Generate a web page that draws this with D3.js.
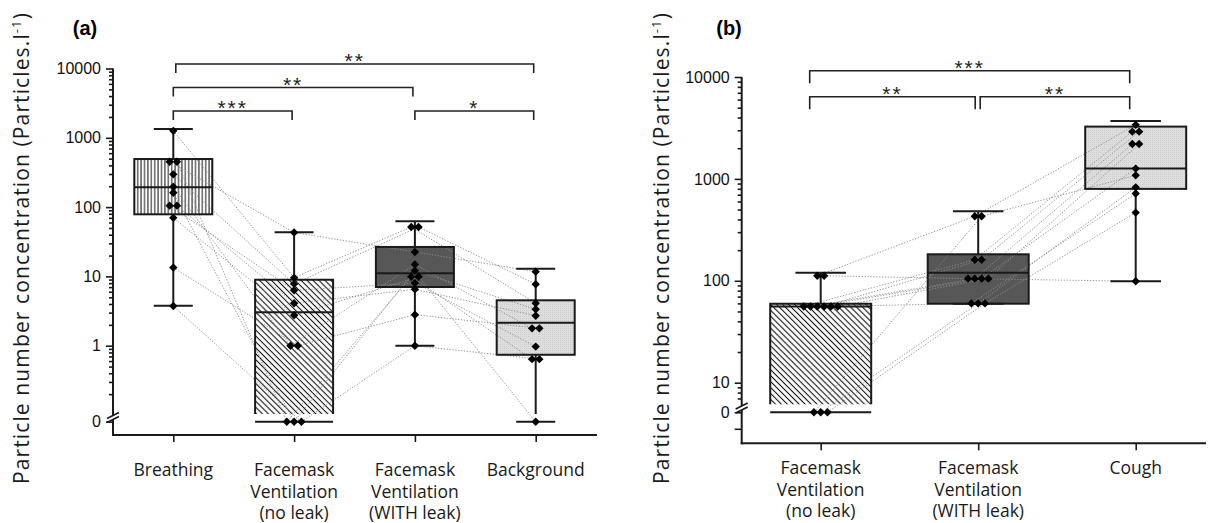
<!DOCTYPE html>
<html><head><meta charset="utf-8">
<script src="https://cdn.jsdelivr.net/npm/d3@7"></script>
<style>body{margin:0;background:#fff} svg{display:block}</style>
</head><body>
<svg id="c" width="1208" height="523"></svg>
<script>
// ---------------- DATA ----------------
// Panel (a)
const catsA = ["Breathing", "FV no leak", "FV WITH leak", "Background"];
const labelsA = [["Breathing"], ["Facemask", "Ventilation", "(no leak)"], ["Facemask", "Ventilation", "(WITH leak)"], ["Background"]];
const minA = [3.78, 0, 1.0, 0];
const q1A  = [78.7, 0, 7.03, 0.74];
const medA = [193, 3.03, 11.1, 2.15];
const q3A  = [494, 8.96, 26.6, 4.52];
const maxA = [1340, 43.3, 62.4, 12.9];
// individual subjects (same subject order in each group)
const breathingA  = [1260, 452, 452, 297, 197, 161, 105, 105, 70, 13.4, 3.74];
const noLeakA     = [9.6, 43, 0, 7.8, 1.0, 0, 6.3, 4.1, 2.75, 1.0, 0];
const withLeakA   = [51.6, 22.5, 9.9, 51.6, 14.9, 12.1, 8.0, 6.5, 9.9, 2.8, 1.0];
const backgroundA = [4.1, 11.7, 0.64, 7.7, 1.78, 3.35, 0.97, 2.71, 0, 1.78, 0.64];
const majorTicksA = [1, 10, 100, 1000, 10000];
const bracketsA = [
  {from: 0, to: 1, label: "***", level: 0},
  {from: 2, to: 3, label: "*",   level: 0},
  {from: 0, to: 2, label: "**",  level: 1},
  {from: 0, to: 3, label: "**",  level: 2}
];
// Panel (b)
const catsB = ["FV no leak", "FV WITH leak", "Cough"];
const labelsB = [["Facemask", "Ventilation", "(no leak)"], ["Facemask", "Ventilation", "(WITH leak)"], ["Cough"]];
const minB = [0, 59.6, 99];
const q1B  = [0, 59.6, 798];
const medB = [56, 120, 1262];
const q3B  = [59.6, 182, 3260];
const maxB = [120, 482, 3705];
const noLeakB   = [112, 112, 56, 56, 56, 56, 56, 56, 0, 0, 0];
const withLeakB = [430, 105, 161, 105, 105, 161, 60, 105, 430, 60, 60];
const coughB    = [3390, 99, 2910, 2200, 1262, 2910, 718, 2200, 1084, 826, 467];
const majorTicksB = [10, 100, 1000, 10000];
const bracketsB = [
  {from: 0, to: 1, label: "**",  level: 0},
  {from: 1, to: 2, label: "**",  level: 0},
  {from: 0, to: 2, label: "***", level: 1}
];
const yTitle = "Particle number concentration (Particles.l";

// ---------------- DRAW ----------------
const svg = d3.select("#c");
const defs = svg.append("defs");
const pv = defs.append("pattern").attr("id", "vlines").attr("patternUnits", "userSpaceOnUse")
  .attr("width", 3.4).attr("height", 10);
pv.append("rect").attr("width", 3.4).attr("height", 10).attr("fill", "#fff");
pv.append("line").attr("x1", 1.7).attr("x2", 1.7).attr("y1", 0).attr("y2", 10).attr("stroke", "#111").attr("stroke-width", 1);
const ph = defs.append("pattern").attr("id", "hatch").attr("patternUnits", "userSpaceOnUse")
  .attr("width", 4.2).attr("height", 10).attr("patternTransform", "rotate(-45)");
ph.append("rect").attr("width", 4.2).attr("height", 10).attr("fill", "#fff");
ph.append("line").attr("x1", 2.1).attr("x2", 2.1).attr("y1", 0).attr("y2", 10).attr("stroke", "#111").attr("stroke-width", 1.1);
const pd = defs.append("pattern").attr("id", "stipple").attr("patternUnits", "userSpaceOnUse")
  .attr("width", 2).attr("height", 2);
pd.append("rect").attr("width", 2).attr("height", 2).attr("fill", "#dedede");
pd.append("rect").attr("width", 1).attr("height", 1).attr("fill", "#cfcfcf");

const INK = "#1a1a1a";
const diamond = "M0,-4.2L4.2,0L0,4.2L-4.2,0Z";

function drawPanel(p) {
  const g = svg.append("g");
  const x = d3.scalePoint().domain(p.cats).range(p.xRange);
  const ylog = d3.scaleLog().domain(p.logDomain).range(p.logRange);
  const ylow = d3.scaleLinear().domain([0, -1]).range([p.zeroY, p.zeroY + p.lowStep]);
  const y = v => v <= 0 ? ylow(v) : ylog(v);
  const breakTop = p.logRange[0] - 1;
  const ax = p.axisX;

  // box fills
  p.cats.forEach((c, i) => {
    const cx = x(c), w = p.boxW;
    const top = y(p.q3[i]);
    const bot = p.q1[i] <= 0 ? breakTop : y(p.q1[i]);
    g.append("rect").attr("x", cx - w / 2).attr("y", top).attr("width", w).attr("height", bot - top)
      .attr("fill", p.fills[i]);
  });

  // point positions with horizontal spreading of coincident values
  const pos = p.points.map((arr, i) => {
    const cx = x(p.cats[i]);
    const ys = arr.map(v => y(v));
    const order = d3.range(arr.length).sort((a, b) => ys[a] - ys[b]);
    const out = new Array(arr.length);
    let cluster = [];
    const flush = () => {
      cluster.forEach((idx, k) => { out[idx] = [cx + (k - (cluster.length - 1) / 2) * p.spread, ys[idx]]; });
      cluster = [];
    };
    order.forEach(idx => {
      if (cluster.length && Math.abs(ys[idx] - ys[cluster[cluster.length - 1]]) > 3) flush();
      cluster.push(idx);
    });
    flush();
    return out;
  });

  // dotted subject lines
  for (let i = 0; i < pos.length - 1; i++) {
    pos[i].forEach((pt, s) => {
      const q = pos[i + 1][s];
      g.append("line").attr("x1", pt[0]).attr("y1", pt[1]).attr("x2", q[0]).attr("y2", q[1])
        .attr("stroke", "#8c8c8c").attr("stroke-width", 0.9).attr("stroke-dasharray", "1.3,1.6");
    });
  }

  // box outlines, medians, whiskers
  p.cats.forEach((c, i) => {
    const cx = x(c), w = p.boxW, l = cx - w / 2, r = cx + w / 2;
    const top = y(p.q3[i]);
    const st = s => s.attr("stroke", INK).attr("stroke-width", 2).attr("fill", "none");
    if (p.q1[i] > 0) {
      const bot = y(p.q1[i]);
      st(g.append("rect").attr("x", l).attr("y", top).attr("width", w).attr("height", bot - top));
      const wEnd = p.min[i] <= 0 ? breakTop : y(p.min[i]);
      st(g.append("line").attr("x1", cx).attr("x2", cx).attr("y1", bot).attr("y2", wEnd));
      st(g.append("line").attr("x1", cx - w / 4).attr("x2", cx + w / 4).attr("y1", y(p.min[i])).attr("y2", y(p.min[i])));
    } else {
      st(g.append("path").attr("d", `M${l},${breakTop}V${top}H${r}V${breakTop}`));
      st(g.append("line").attr("x1", l).attr("x2", r).attr("y1", y(0)).attr("y2", y(0)));
    }
    st(g.append("line").attr("x1", l).attr("x2", r).attr("y1", y(p.med[i])).attr("y2", y(p.med[i])));
    st(g.append("line").attr("x1", cx).attr("x2", cx).attr("y1", top).attr("y2", y(p.max[i])));
    st(g.append("line").attr("x1", cx - w / 4).attr("x2", cx + w / 4).attr("y1", y(p.max[i])).attr("y2", y(p.max[i])));
  });

  // points
  pos.forEach(arr => arr.forEach(pt => {
    g.append("path").attr("d", diamond).attr("transform", `translate(${pt[0]},${pt[1]})`).attr("fill", "#000");
  }));

  // y axis (log part)
  const minors = [];
  const [d0, d1] = p.logDomain;
  for (let e = Math.floor(Math.log10(d0)); e < Math.log10(d1); e++) {
    for (let k = 2; k <= 9; k++) {
      const v = k * Math.pow(10, e);
      if (v > d0 * 1.05 && v < d1) minors.push(+v.toPrecision(3));
    }
  }
  const yAxG = g.append("g").attr("transform", `translate(${ax},0)`);
  yAxG.append("g").call(d3.axisLeft(ylog).tickValues(minors).tickSize(4).tickFormat(""));
  yAxG.append("g").call(d3.axisLeft(ylog).tickValues(p.majors).tickSize(7).tickPadding(5).tickFormat(d3.format("d")));
  yAxG.append("g").call(d3.axisLeft(ylow).tickValues([0]).tickSize(7).tickPadding(5).tickFormat(d3.format("d")));
  if (p.lowMinor) yAxG.append("g").call(d3.axisLeft(ylow).tickValues([-1]).tickSize(7).tickFormat(""));
  yAxG.selectAll(".domain").remove();
  yAxG.selectAll("line").attr("stroke", INK).attr("stroke-width", 1.6);
  yAxG.selectAll("text").attr("font-family", "'Liberation Sans', Arial, sans-serif").attr("font-size", 16).attr("fill", "#111");

  // axis lines with break
  const cy = p.breakY;
  const axl = s => s.attr("stroke", INK).attr("stroke-width", 2).attr("fill", "none");
  axl(g.append("line").attr("x1", ax).attr("x2", ax).attr("y1", p.logRange[1]).attr("y2", cy - 2));
  axl(g.append("line").attr("x1", ax).attr("x2", ax).attr("y1", cy + 2).attr("y2", p.xAxisY + 1));
  axl(g.append("line").attr("x1", ax - 6).attr("x2", ax + 6).attr("y1", cy + 1).attr("y2", cy - 5)).attr("stroke-width", 1.6);
  axl(g.append("line").attr("x1", ax - 6).attr("x2", ax + 6).attr("y1", cy + 5).attr("y2", cy - 1)).attr("stroke-width", 1.6);
  axl(g.append("line").attr("x1", ax - 1).attr("x2", p.xEnd).attr("y1", p.xAxisY).attr("y2", p.xAxisY));

  // x axis ticks and labels
  const xAxG = g.append("g").attr("transform", `translate(0,${p.xAxisY})`)
    .call(d3.axisBottom(x).tickSize(7).tickFormat(""));
  xAxG.select(".domain").remove();
  xAxG.selectAll("line").attr("stroke", INK).attr("stroke-width", 1.6);
  p.cats.forEach((c, i) => {
    const t = g.append("text").attr("text-anchor", "middle").attr("font-family", "'Open Sans', sans-serif")
      .attr("font-size", 17.5).attr("fill", "#1a1a1a");
    p.labels[i].forEach((line, k) => {
      t.append("tspan").attr("x", x(c)).attr("y", p.labelY + k * 21.5).text(line);
    });
  });

  // brackets
  p.brackets.forEach(b => {
    const by = p.bracketBase - b.level * p.bracketStep;
    const x1 = x(p.cats[b.from]) + p.bPad(b, "l");
    const x2 = x(p.cats[b.to]) + p.bPad(b, "r");
    g.append("path").attr("d", `M${x1},${by + p.bracketTick}V${by}H${x2}V${by + p.bracketTick}`)
      .attr("stroke", "#222").attr("stroke-width", 1.6).attr("fill", "none");
    g.append("text").attr("x", (x1 + x2) / 2).attr("y", by + 4).attr("text-anchor", "middle")
      .attr("font-family", "'Liberation Sans', Arial, sans-serif").attr("font-size", 21)
      .attr("letter-spacing", 2).attr("fill", "#222").text(b.label);
  });

  // panel tag
  g.append("text").attr("x", p.tagX).attr("y", 35).attr("text-anchor", "middle")
    .attr("font-family", "'Liberation Sans', Arial, sans-serif").attr("font-weight", "bold")
    .attr("font-size", 20).attr("fill", "#000").text(p.tag);

  // y title
  const tt = g.append("text").attr("transform", `translate(${p.titleX},248) rotate(-90)`)
    .attr("text-anchor", "middle").attr("font-family", "'Open Sans', sans-serif")
    .attr("font-size", 21).attr("fill", "#1a1a1a");
  tt.append("tspan").text(yTitle);
  tt.append("tspan").attr("font-size", 13).attr("dy", -8).text("-1");
  tt.append("tspan").attr("dy", 8).text(")");
  const len = tt.node().getComputedTextLength();
  const nch = yTitle.length + 3;
  tt.attr("letter-spacing", Math.max(0, (472 - len) / nch));
}

drawPanel({
  cats: catsA, labels: labelsA, min: minA, q1: q1A, med: medA, q3: q3A, max: maxA,
  points: [breathingA, noLeakA, withLeakA, backgroundA],
  fills: ["url(#vlines)", "url(#hatch)", "#575757", "url(#stipple)"],
  xRange: [173.3, 535.7], boxW: 78, spread: 7.3,
  logDomain: [0.1, 10000], logRange: [415, 68.5], zeroY: 421.7, lowStep: 14, lowMinor: false,
  majors: majorTicksA, axisX: 113, breakY: 417.5, xAxisY: 435, xEnd: 597, labelY: 476,
  brackets: bracketsA, bracketBase: 111, bracketStep: 23.5, bracketTick: 9,
  bPad: (b, s) => s === "l" ? (b.level === 2 ? 2.5 : 0) : -2,
  tag: "(a)", tagX: 85, titleX: 29
});

drawPanel({
  cats: catsB, labels: labelsB, min: minB, q1: q1B, med: medB, q3: q3B, max: maxB,
  points: [noLeakB, withLeakB, coughB],
  fills: ["url(#hatch)", "#575757", "url(#stipple)"],
  xRange: [820.7, 1135.7], boxW: 101, spread: 6.8,
  logDomain: [6, 10000], logRange: [405.3, 77], zeroY: 412.3, lowStep: 16.5, lowMinor: true,
  majors: majorTicksB, axisX: 741.7, breakY: 408, xAxisY: 443.3, xEnd: 1206, labelY: 474,
  brackets: bracketsB, bracketBase: 96.7, bracketStep: 26, bracketTick: 12.5,
  bPad: (b, s) => s === "l" ? (b.from === 0 ? -11 : 2) : (b.to === 2 ? -6 : -3),
  tag: "(b)", tagX: 729, titleX: 669
});
</script>
</body></html>
